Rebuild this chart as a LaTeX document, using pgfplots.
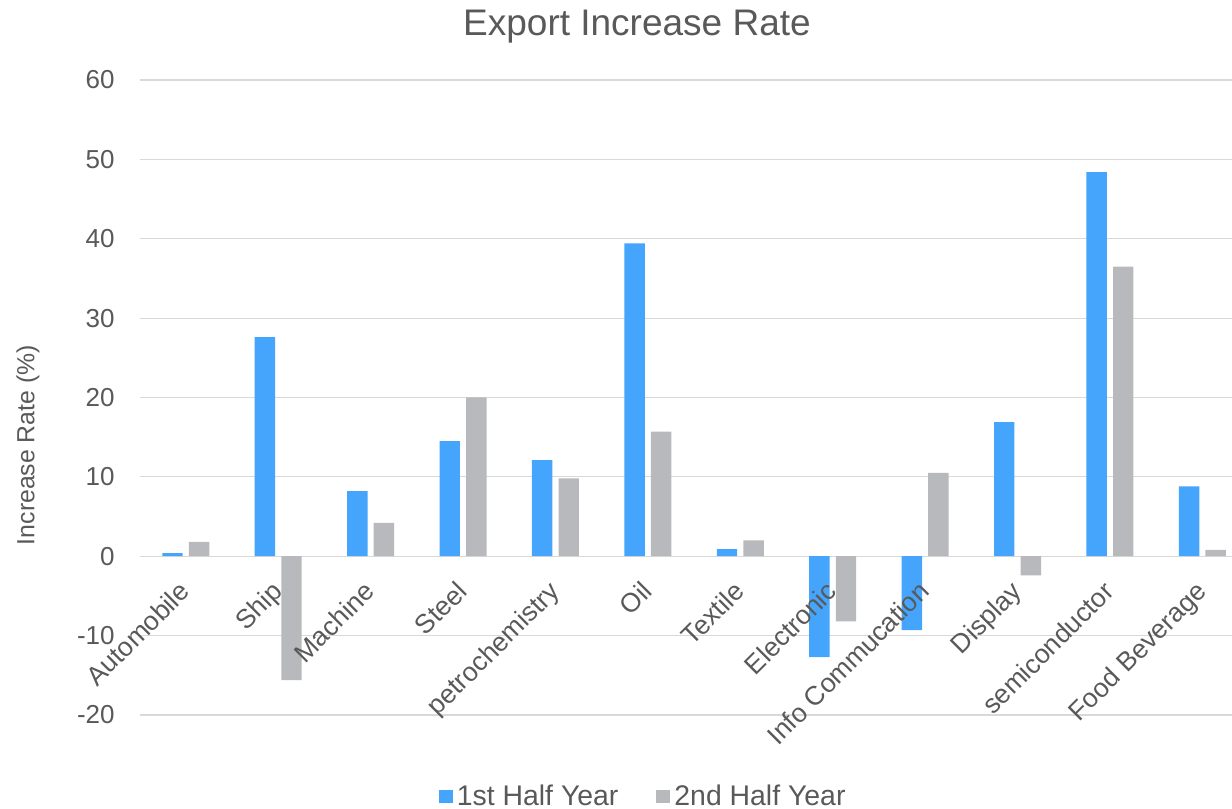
\documentclass[border=0pt]{standalone}
\usepackage{pgfplots}
\pgfplotsset{compat=1.18}
\usetikzlibrary{calc}
\usepackage{fontspec}
\setmainfont{Liberation Sans}
\definecolor{bblue}{HTML}{45A5FC}
\definecolor{bgray}{HTML}{B7B9BC}
\definecolor{tgray}{HTML}{595959}
\definecolor{ggray}{HTML}{D9D9D9}
\pgfplotsset{
  layers/mylayers/.define layer set={axis background,axis grid,main,axis ticks,axis lines,axis tick labels,axis descriptions,axis foreground}{/pgfplots/layers/standard},
}
\begin{document}
\begin{tikzpicture}
\begin{axis}[
  name=ax, set layers=mylayers,
  width=554.5pt, height=317.5pt, scale only axis,
  xmin=-0.5, xmax=11.5, ymin=-20, ymax=60,
  ytick={-20,-10,...,60},
  axis x line=middle, axis y line=left,
  axis line style={draw=none},
  hide obscured x ticks=false, hide obscured y ticks=false,
  major tick length=0pt,
  xtick={0,...,11},
  xticklabels={Automobile,Ship,Machine,Steel,petrochemistry,Oil,Textile,Electronic,Info Commucation,Display,semiconductor,Food Beverage},
  xticklabel style={xshift=-4pt, yshift=-11.5pt, rotate=45, anchor=north east, font=\fontsize{13.3}{15}\selectfont, text=tgray, inner sep=0pt},
  yticklabel style={font=\fontsize{13}{15}\selectfont, text=tgray, anchor=east, inner sep=0pt, xshift=-12.3pt},
  /pgf/number format/assume math mode=true,
  ymajorgrids, grid style={ggray, line width=0.6pt},
  ybar, bar width=10.2pt,
  title={Export Increase Rate},
  title style={at={(axis description cs:0.4485,1)}, anchor=center, yshift=20.5pt, font=\fontsize{18.5}{21}\selectfont, text=tgray},
  ylabel={Increase Rate (\%)},
  every axis y label/.style={at={([xshift=-55.8pt]axis description cs:0,0.425)}, anchor=center, rotate=90, font=\fontsize{12.4}{14}\selectfont, text=tgray},
  legend style={at={([yshift=-41pt]axis description cs:0.455,0)}, anchor=center, draw=none, fill=none, legend columns=2, font=\fontsize{14.2}{16}\selectfont, text=tgray, /tikz/every even column/.append style={column sep=17pt}},
  legend image code/.code={\fill[#1] (0pt,-3.25pt) rectangle (7pt,3.25pt);},
]
\addplot[fill=bblue, draw=none, bar shift=-6.65pt] coordinates {
(0,0.4) (1,27.6) (2,8.2) (3,14.5) (4,12.1) (5,39.4) (6,0.9) (7,-12.7) (8,-9.3) (9,16.9) (10,48.4) (11,8.8)};
\addplot[fill=bgray, draw=none, bar shift=6.65pt] coordinates {
(0,1.8) (1,-15.6) (2,4.2) (3,20.0) (4,9.8) (5,15.7) (6,2.0) (7,-8.2) (8,10.5) (9,-2.4) (10,36.5) (11,0.8)};
\legend{1st Half Year, 2nd Half Year}
\end{axis}
\pgfresetboundingbox
\path[use as bounding box] ($(ax.south west)+(-69.8pt,-47pt)$) rectangle ($(ax.north west)+(546.2pt,40pt)$);
\end{tikzpicture}
\end{document}
